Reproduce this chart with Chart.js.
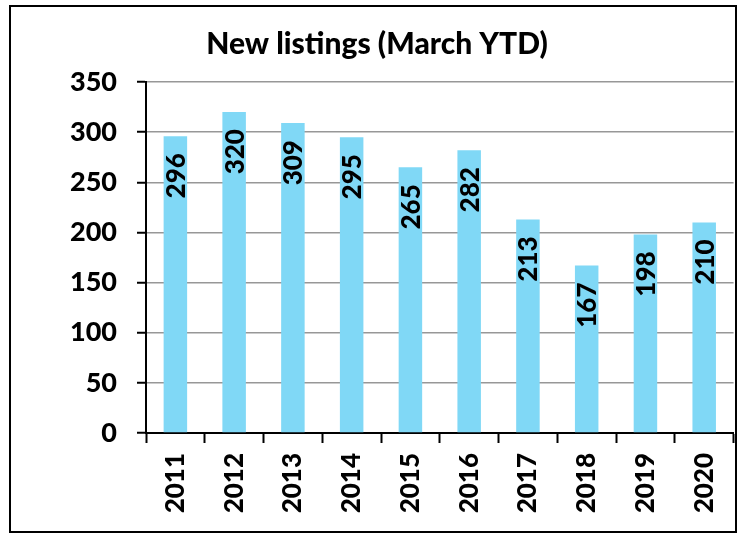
<!DOCTYPE html>
<html>
<head>
<meta charset="utf-8">
<script src="https://cdn.jsdelivr.net/npm/chart.js@4.4.1/dist/chart.umd.min.js"></script>
<style>
  html, body { margin: 0; padding: 0; background: #fff; }
  #wrap { width: 746px; height: 536px; }
</style>
</head>
<body>
<div id="wrap"><canvas id="listings" width="746" height="536"></canvas></div>
<script>
const years = ["2011", "2012", "2013", "2014", "2015", "2016", "2017", "2018", "2019", "2020"];
const newListings = [296, 320, 309, 295, 265, 282, 213, 167, 198, 210];
const yTicks = [0, 50, 100, 150, 200, 250, 300, 350];

const FONT = "Lato, 'Open Sans', sans-serif";

// outer frame around the whole chart
const framePlugin = {
  id: "frame",
  beforeDraw(chart) {
    const ctx = chart.ctx;
    ctx.save();
    ctx.fillStyle = "#fff";
    ctx.fillRect(0, 0, chart.width, chart.height);
    ctx.strokeStyle = "#000";
    ctx.lineWidth = 2;
    ctx.strokeRect(10, 6, 726, 526);
    ctx.restore();
  },
};

// rotated value labels inside the top of each bar
const valueLabels = {
  id: "valueLabels",
  afterDraw(chart) {
    const ctx = chart.ctx;
    const meta = chart.getDatasetMeta(0);
    ctx.save();
    ctx.font = "900 26px " + FONT;
    ctx.fillStyle = "#000";
    ctx.textAlign = "right";
    ctx.textBaseline = "middle";
    meta.data.forEach((bar, i) => {
      ctx.save();
      ctx.translate(bar.x, bar.y + 17);
      ctx.rotate(-Math.PI / 2);
      ctx.fillText(String(newListings[i]), 0, 1);
      ctx.restore();
    });
    ctx.restore();
  },
};

const ctx = document.getElementById("listings").getContext("2d");

new Chart(ctx, {
  type: "bar",
  data: {
    labels: years,
    datasets: [
      {
        label: "New listings",
        data: newListings,
        backgroundColor: "rgb(128, 216, 246)",
        borderWidth: 0,
        barPercentage: 0.4,
        categoryPercentage: 1,
      },
    ],
  },
  options: {
    responsive: false,
    animation: false,
    layout: {
      padding: { top: 8, left: 20, right: 12, bottom: 20 },
    },
    plugins: {
      legend: { display: false },
      tooltip: { enabled: false },
      title: {
        display: true,
        text: "New listings (March YTD)",
        color: "#000",
        font: { family: FONT, size: 30, weight: "900" },
        padding: { top: 18, bottom: 20 },
      },
    },
    scales: {
      x: {
        grid: {
          offset: true,
          drawOnChartArea: false,
          tickLength: 10,
          tickColor: "#000",
          tickWidth: 2,
        },
        border: { color: "#000", width: 2 },
        ticks: {
          color: "#000",
          font: { family: FONT, size: 26, weight: "900" },
          minRotation: 90,
          maxRotation: 90,
          padding: 10,
        },
        afterFit(scale) {
          scale.height = 83;
        },
      },
      y: {
        min: 0,
        max: 350,
        z: 1,
        afterBuildTicks(scale) {
          scale.ticks = yTicks.map((v) => ({ value: v }));
        },
        grid: {
          color: "rgba(140, 140, 140, 0.9)",
          lineWidth: 1.5,
          tickLength: 9,
          tickColor: "#000",
          tickWidth: 2,
        },
        border: { color: "#000", width: 2 },
        ticks: {
          color: "#000",
          font: { family: FONT, size: 27, weight: "900" },
          padding: 20,
        },
        afterFit(scale) {
          scale.width = 126;
        },
      },
    },
  },
  plugins: [framePlugin, valueLabels],
});
</script>
</body>
</html>
